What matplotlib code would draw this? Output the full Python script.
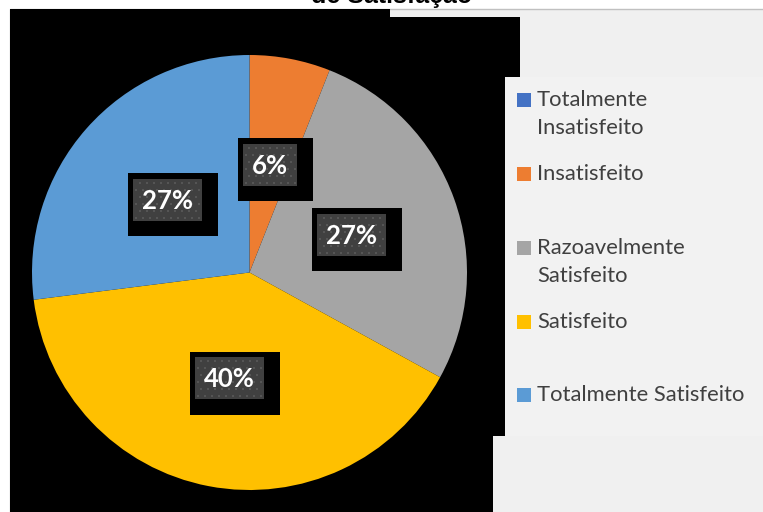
import matplotlib
matplotlib.use("Agg")
import matplotlib.pyplot as plt
from matplotlib.patches import Rectangle, Polygon
import numpy as np

# Survey answers (share of respondents, %)
categories = ["Totalmente Insatisfeito", "Insatisfeito", "Razoavelmente Satisfeito",
              "Satisfeito", "Totalmente Satisfeito"]
legend_labels = ["Totalmente\nInsatisfeito", "Insatisfeito", "Razoavelmente\nSatisfeito",
                 "Satisfeito", "Totalmente Satisfeito"]
percentages = [0, 6, 27, 40, 27]
colors = ["#4472C4", "#ED7D31", "#A5A5A5", "#FFC000", "#5B9BD5"]
title = "de Satisfação"

W, H = 763, 512
fig = plt.figure(figsize=(W / 100, H / 100), dpi=100)
fig.patch.set_facecolor("white")

# Background layer in pixel coordinates (origin top-left)
bg = fig.add_axes([0, 0, 1, 1], zorder=0)
bg.set_xlim(0, W)
bg.set_ylim(H, 0)
bg.axis("off")
bg.add_patch(Rectangle((9.5, 8.5), W, H, facecolor="#f0f0f0", edgecolor="#c0c0c0", lw=1))
bg.add_patch(Rectangle((505, 77), W - 505, 436 - 77, facecolor="#f2f2f2", lw=0))
bg.add_patch(Polygon([(10, 9), (390, 9), (390, 17), (520, 17), (520, 77), (505, 77),
                      (505, 436), (493, 436), (493, H), (10, H)],
                     closed=True, facecolor="black", lw=0))

fig.text(392 / W, 1 - 3.0 / H, title, ha="center", va="baseline",
         fontsize=18, fontweight="bold", family="Liberation Sans", color="black")

# Legend
legend_rows = [100, 174, 248, 322, 395]
for lab, col, yc in zip(legend_labels, colors, legend_rows):
    bg.add_patch(Rectangle((517, yc - 7), 14, 14, facecolor=col, lw=0))
    for k, line in enumerate(lab.split("\n")):
        bg.text(537, yc + 28.5 * k, line, ha="left", va="center", fontsize=15.8,
                family="Lato", color="#404040")

# Pie
R_PX = 217.5
cx, cy = 249.5, 272.5
ax = fig.add_axes([(cx - R_PX) / W, (H - cy - R_PX) / H, 2 * R_PX / W, 2 * R_PX / H], zorder=1)
ax.patch.set_alpha(0)
wedges, _, autotexts = ax.pie(
    percentages, colors=colors, startangle=90, counterclock=False, radius=1,
    autopct=lambda p: f"{p:.0f}%" if p > 0 else "", pctdistance=0.5,
    wedgeprops=dict(linewidth=0),
    textprops=dict(fontsize=18.5, fontweight="bold", family="Lato", color="white"))
ax.set_xlim(-1, 1)
ax.set_ylim(-1, 1)
ax.axis("off")

# Label boxes: dark dotted panel with black shadow frame
fig.canvas.draw()
renderer = fig.canvas.get_renderer()
px = 1 / R_PX
inv = ax.transData.inverted()
for t in autotexts:
    if not t.get_text():
        continue
    t.set_zorder(5)
    bb = t.get_window_extent(renderer)
    (x0, y0), (x1, y1) = inv.transform([[bb.x0, bb.y0], [bb.x1, bb.y1]])
    tx, ty = t.get_position()
    iw = (x1 - x0) + 18 * px
    ih = 42 * px
    ix0 = tx - iw / 2
    iy0 = ty - ih / 2 + 1 * px
    ax.add_patch(Rectangle((ix0 - 5 * px, iy0 - 15.5 * px), iw + 21 * px, ih + 21 * px,
                           facecolor="black", lw=0, zorder=3))
    ax.add_patch(Rectangle((ix0, iy0), iw, ih, facecolor="#404040", lw=0, zorder=3.5))
    gx, gy = [], []
    nrow = int(ih / (7 * px))
    for r in range(nrow + 1):
        yy = iy0 + (3 + r * 7) * px
        if yy > iy0 + ih - 1 * px:
            break
        off = 3.5 if r % 2 else 0
        xx = ix0 + (3 + off) * px
        while xx < ix0 + iw - 1 * px:
            gx.append(xx)
            gy.append(yy)
            xx += 7 * px
    ax.scatter(gx, gy, s=2.2, marker="s", color="#555555", lw=0, zorder=4)

fig.savefig("out.png", dpi=100, facecolor=fig.get_facecolor())
